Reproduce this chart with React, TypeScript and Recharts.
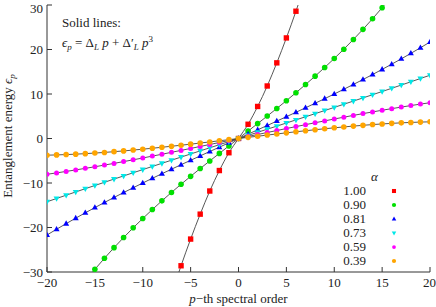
import React from "react";
import {
  ComposedChart,
  Line,
  XAxis,
  YAxis,
  Legend,
} from "recharts";

// spectral order p, -20 .. 20
const orders = [
  -20, -19, -18, -17, -16, -15, -14, -13, -12, -11, -10, -9, -8, -7, -6, -5, -4, -3, -2, -1,
  0, 1, 2, 3, 4, 5, 6, 7, 8, 9, 10, 11, 12, 13, 14, 15, 16, 17, 18, 19, 20,
];

// alpha = 0.39, p = -20 .. 20
const eps039 = [
  -3.75, -3.69, -3.61, -3.52, -3.4, -3.27, -3.13, -2.96, -2.79, -2.6, -2.4, -2.19, -1.97, -1.74, -1.51, -1.27, -1.02, -0.77, -0.51, -0.26,
  0, 0.26, 0.51, 0.77, 1.02, 1.27, 1.51, 1.74, 1.97, 2.19, 2.4, 2.6, 2.79, 2.96, 3.13, 3.27, 3.4, 3.52, 3.61, 3.69, 3.75,
];
// alpha = 0.59, p = -20 .. 20
const eps059 = [
  -8.04, -7.73, -7.4, -7.06, -6.71, -6.35, -5.97, -5.59, -5.19, -4.79, -4.38, -3.96, -3.54, -3.11, -2.67, -2.24, -1.79, -1.35, -0.9, -0.45,
  0, 0.45, 0.9, 1.35, 1.79, 2.24, 2.67, 3.11, 3.54, 3.96, 4.38, 4.79, 5.19, 5.59, 5.97, 6.35, 6.71, 7.06, 7.4, 7.73, 8.04,
];
// alpha = 0.73, p = -20 .. 20
const eps073 = [
  -14.22, -13.48, -12.74, -12.01, -11.28, -10.56, -9.84, -9.12, -8.41, -7.7, -6.99, -6.28, -5.58, -4.88, -4.18, -3.48, -2.78, -2.09, -1.39, -0.7,
  0, 0.7, 1.39, 2.09, 2.78, 3.48, 4.18, 4.88, 5.58, 6.28, 6.99, 7.7, 8.41, 9.12, 9.84, 10.56, 11.28, 12.01, 12.74, 13.48, 14.22,
];
// alpha = 0.81, p = -20 .. 20
const eps081 = [
  -21.68, -20.39, -19.13, -17.9, -16.7, -15.53, -14.38, -13.25, -12.15, -11.07, -10.0, -8.95, -7.92, -6.9, -5.89, -4.9, -3.91, -2.92, -1.95, -0.97,
  0, 0.97, 1.95, 2.92, 3.91, 4.9, 5.89, 6.9, 7.92, 8.95, 10.0, 11.07, 12.15, 13.25, 14.38, 15.53, 16.7, 17.9, 19.13, 20.39, 21.68,
];
// alpha = 0.90, p = -15 .. 15
const orders090 = [-15, -14, -13, -12, -11, -10, -9, -8, -7, -6, -5, -4, -3, -2, -1, 0, 1, 2, 3, 4, 5, 6, 7, 8, 9, 10, 11, 12, 13, 14, 15];
const eps090 = [
  -29.4, -26.91, -24.53, -22.26, -20.07, -17.98, -15.96, -14.01, -12.12, -10.29, -8.5, -6.75, -5.04, -3.35, -1.67,
  0, 1.67, 3.35, 5.04, 6.75, 8.5, 10.29, 12.12, 14.01, 15.96, 17.98, 20.07, 22.26, 24.53, 26.91, 29.4,
];
// alpha = 1.00, p = -6 .. 6
const orders100 = [-6, -5, -4, -3, -2, -1, 0, 1, 2, 3, 4, 5, 6];
const eps100 = [-28.6, -22.6, -17.0, -11.8, -7.2, -3.2, 0, 3.2, 7.2, 11.8, 17.0, 22.6, 28.6];

// fit curve continues a little past the last points (clipped by the frame)
const fitTails: Record<string, [number, number][]> = {
  a100: [[-7, -35.0], [7, 35.0]],
  a090: [[-16, -32.0], [16, 32.0]],
};

const xTicks = [-20, -15, -10, -5, 0, 5, 10, 15, 20];
const yTicks = [-30, -20, -10, 0, 10, 20, 30];

type Shape = "square" | "circle" | "up" | "down" | "dot";

const series: { key: string; label: string; color: string; shape: Shape }[] = [
  { key: "a100", label: "1.00", color: "#ff0000", shape: "square" },
  { key: "a090", label: "0.90", color: "#00e000", shape: "circle" },
  { key: "a081", label: "0.81", color: "#0000ff", shape: "up" },
  { key: "a073", label: "0.73", color: "#00e8e8", shape: "down" },
  { key: "a059", label: "0.59", color: "#ff00ff", shape: "dot" },
  { key: "a039", label: "0.39", color: "#ffa500", shape: "circle" },
];

const rowsByP: Record<number, Record<string, number>> = {};
const put = (p: number, key: string, v: number) => {
  if (!rowsByP[p]) rowsByP[p] = { p };
  rowsByP[p][key] = v;
};
orders.forEach((p, i) => {
  put(p, "a039", eps039[i]);
  put(p, "a059", eps059[i]);
  put(p, "a073", eps073[i]);
  put(p, "a081", eps081[i]);
});
orders090.forEach((p, i) => put(p, "a090", eps090[i]));
orders100.forEach((p, i) => put(p, "a100", eps100[i]));
Object.entries(fitTails).forEach(([key, pts]) => pts.forEach(([p, v]) => put(p, key, v)));
const data = Object.values(rowsByP).sort((a, b) => a.p - b.p);

const FONT = "'Liberation Serif', 'DejaVu Serif', serif";
const minus = (v: number) => String(v).replace("-", "\u2212");

function Marker({ cx, cy, shape, color, s = 1 }: { cx: number; cy: number; shape: Shape; color: string; s?: number }) {
  if (shape === "square") {
    const h = 2.7 * s;
    return <rect x={cx - h} y={cy - h} width={2 * h} height={2 * h} fill={color} />;
  }
  if (shape === "circle") return <circle cx={cx} cy={cy} r={2.8 * s} fill={color} />;
  if (shape === "dot") return <circle cx={cx} cy={cy} r={2.5 * s} fill={color} />;
  if (shape === "up")
    return (
      <polygon
        points={`${cx},${cy - 3.3 * s} ${cx - 3 * s},${cy + 2 * s} ${cx + 3 * s},${cy + 2 * s}`}
        fill={color}
      />
    );
  return (
    <polygon
      points={`${cx},${cy + 3.3 * s} ${cx - 3 * s},${cy - 2 * s} ${cx + 3 * s},${cy - 2 * s}`}
      fill={color}
    />
  );
}

function AlphaLegend() {
  return (
    <div style={{ fontFamily: FONT, fontSize: 13, color: "#222", width: 80, lineHeight: "14px" }}>
      <div style={{ paddingLeft: 41, fontStyle: "italic", height: 14 }}>α</div>
      {series.map((s) => (
        <div key={s.key} style={{ display: "flex", alignItems: "center", height: 14 }}>
          <span style={{ width: 36, textAlign: "right" }}>{s.label}</span>
          <svg width={44} height={14}>
            <Marker cx={28} cy={7} shape={s.shape} color={s.color} s={0.75} />
          </svg>
        </div>
      ))}
    </div>
  );
}

export default function App() {
  return (
    <div style={{ position: "absolute", left: 0, top: 0, width: 436, height: 307, fontFamily: FONT, background: "#fff" }}>
      <ComposedChart width={436} height={307} data={data} margin={{ top: 5, right: 6, bottom: 5, left: 7 }}>
        <XAxis
          dataKey="p"
          type="number"
          domain={[-20, 20]}
          ticks={xTicks}
          allowDataOverflow
          height={30}
          stroke="#333"
          tickSize={-5}
          tickMargin={11}
          tickFormatter={minus}
          tick={{ fontSize: 13, fill: "#222", fontFamily: FONT }}
          label={{
            content: () => (
              <text x={238.5} y={303} textAnchor="middle" fontSize={13} fill="#222" fontFamily={FONT}>
                <tspan fontStyle="italic">p</tspan>
                <tspan>{"\u2212th spectral order"}</tspan>
              </text>
            ),
          }}
        />
        <XAxis
          xAxisId="top"
          orientation="top"
          type="number"
          domain={[-20, 20]}
          ticks={xTicks}
          height={0}
          stroke="#333"
          tickSize={-5}
          tickFormatter={() => ""}
        />
        <YAxis
          type="number"
          domain={[-30, 30]}
          ticks={yTicks}
          allowDataOverflow
          width={40}
          stroke="#333"
          tickSize={-5}
          tickMargin={9}
          tickFormatter={minus}
          tick={{ fontSize: 13, fill: "#222", fontFamily: FONT }}
          label={{
            content: () => (
              <text
                x={12}
                y={136}
                transform="rotate(-90 12 136)"
                textAnchor="middle"
                fontSize={13}
                fill="#222"
                fontFamily={FONT}
              >
                <tspan>Entanglement energy </tspan>
                <tspan fontStyle="italic">ϵ</tspan>
                <tspan fontStyle="italic" fontSize={9} dy={3}>p</tspan>
              </text>
            ),
          }}
        />
        <YAxis
          yAxisId="right"
          orientation="right"
          type="number"
          domain={[-30, 30]}
          ticks={yTicks}
          width={0}
          stroke="#333"
          tickSize={-5}
          tickFormatter={() => ""}
        />
        <Legend
          layout="vertical"
          align="center"
          verticalAlign="middle"
          wrapperStyle={{ left: 330, top: 170, width: 80 }}
          content={() => <AlphaLegend />}
        />
        {series.map((s) => (
          <Line
            key={s.key}
            dataKey={s.key}
            name={s.label}
            type="monotone"
            stroke="#444"
            strokeWidth={0.9}
            isAnimationActive={false}
            legendType="none"
            dot={(props: any) => {
              const { cx, cy, value, index } = props;
              if (cx == null || cy == null || value == null || Math.abs(value) > 30) return <g key={`${s.key}-${index}`} />;
              return (
                <g key={`${s.key}-${index}`}>
                  <Marker cx={cx} cy={cy} shape={s.shape} color={s.color} />
                </g>
              );
            }}
            activeDot={false}
          />
        ))}
      </ComposedChart>
      <div
        style={{
          position: "absolute",
          left: 62,
          top: 15,
          fontFamily: FONT,
          fontSize: 13,
          color: "#222",
          lineHeight: "16px",
          whiteSpace: "nowrap",
        }}
      >
        <div>Solid lines:</div>
        <div>
          <i>ϵ</i>
          <sub style={{ fontSize: 9, verticalAlign: -3 }}>
            <i>p</i>
          </sub>{" "}
          = Δ<sub style={{ fontSize: 9, verticalAlign: -3 }}><i>L</i></sub> <i>p</i> + Δ′
          <sub style={{ fontSize: 9, verticalAlign: -3 }}><i>L</i></sub> <i>p</i>
          <sup style={{ fontSize: 9, verticalAlign: 5 }}>3</sup>
        </div>
      </div>
    </div>
  );
}
